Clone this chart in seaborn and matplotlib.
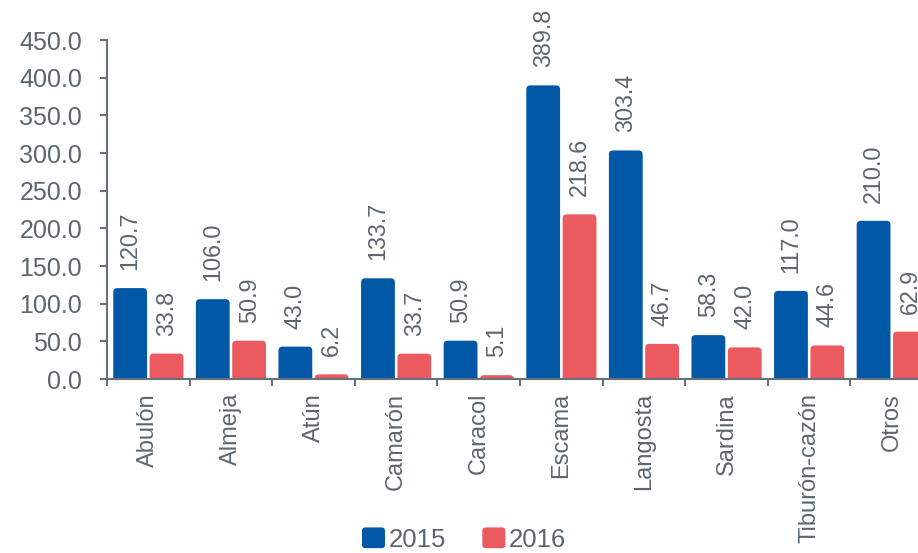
"""
Producción pesquera por especie, 2015 vs 2016 - barras agrupadas con seaborn
"""

import numpy as np
import pandas as pd
import matplotlib
matplotlib.use("Agg")
import matplotlib.pyplot as plt
import seaborn as sns
from matplotlib.patches import FancyBboxPatch, Patch
from matplotlib.legend_handler import HandlerPatch
from matplotlib.ticker import FixedLocator, FormatStrFormatter

# ============================================================
# Data
# ============================================================
especies = ["Abulón", "Almeja", "Atún", "Camarón", "Caracol",
            "Escama", "Langosta", "Sardina", "Tiburón-cazón", "Otros"]
valores_2015 = [120.7, 106.0, 43.0, 133.7, 50.9, 389.8, 303.4, 58.3, 117.0, 210.0]
valores_2016 = [33.8, 50.9, 6.2, 33.7, 5.1, 218.6, 46.7, 42.0, 44.6, 62.9]
anios = ["2015", "2016"]
y_ticks = [0, 50, 100, 150, 200, 250, 300, 350, 400, 450]

df = pd.DataFrame({
    "especie": especies * 2,
    "anio": [anios[0]] * len(especies) + [anios[1]] * len(especies),
    "valor": valores_2015 + valores_2016,
})

# ============================================================
# Style
# ============================================================
azul = "#0058A6"
rojo = "#EA5A5F"
gris_txt = "#5B6670"
gris_eje = "#66717B"

sns.set_theme(style="white")
plt.rcParams["font.family"] = ["Liberation Sans", "DejaVu Sans"]

fig_w, fig_h = 9.18, 5.53
fig = plt.figure(figsize=(fig_w, fig_h), dpi=100)
ax_pos = [0.1166, 0.3146, 0.8998, 0.613]
ax = fig.add_axes(ax_pos)

sns.barplot(data=df, x="especie", y="valor", hue="anio",
            palette=[azul, rojo], saturation=1, width=0.88, gap=0.07,
            legend=False, ax=ax)

ax.set_xlim(-0.5, len(especies) - 0.5)
ax.set_ylim(0, 450)

# value labels
for cont in ax.containers:
    ax.bar_label(cont, fmt="%.1f", rotation=90, padding=13,
                 fontsize=16.8, color=gris_txt)

# rounded tops on the bars
ax_w_px = ax_pos[2] * fig_w * 100
ax_h_px = ax_pos[3] * fig_h * 100
x_per_px = (len(especies)) / ax_w_px
y_per_px = 450 / ax_h_px
aspect = y_per_px / x_per_px
r_x = 4 * x_per_px
r_y = r_x * aspect
for bar in list(ax.patches):
    x, w, h = bar.get_x(), bar.get_width(), bar.get_height()
    fc = bar.get_facecolor()
    bar.remove()
    ax.add_patch(FancyBboxPatch((x, -r_y), w, h + r_y,
                                boxstyle=f"round,pad=0,rounding_size={r_x}",
                                mutation_aspect=aspect, fc=fc, ec="none"))

# axes & ticks
sns.despine(ax=ax)
for side in ["left", "bottom"]:
    ax.spines[side].set_color(gris_eje)
    ax.spines[side].set_linewidth(1.5)
ax.spines["left"].set_zorder(0.5)

ax.set_yticks(y_ticks)
ax.yaxis.set_major_formatter(FormatStrFormatter("%.1f"))
ax.tick_params(axis="y", left=True, length=5, width=1.5, color=gris_eje,
               direction="out", pad=13, labelsize=18, labelcolor=gris_txt)

ax.tick_params(axis="x", which="major", bottom=True, length=0, pad=10,
               labelsize=17, labelcolor=gris_txt, labelrotation=90)
ax.xaxis.set_minor_locator(FixedLocator(np.arange(-0.5, len(especies), 1)))
ax.tick_params(axis="x", which="minor", bottom=True, length=5, width=1.5,
               color=gris_eje, direction="out")
ax.set_xlabel("")
ax.set_ylabel("")

# legend with rounded squares
handles = [Patch(facecolor=c, label=a) for c, a in zip([azul, rojo], anios)]


def rounded_handle(legend, orig_handle, xdescent, ydescent, width, height, fontsize):
    return FancyBboxPatch((-xdescent, -ydescent), width, height,
                          boxstyle="round,pad=0,rounding_size=3")


fig.legend(handles=handles, labels=anios, loc="center",
           bbox_to_anchor=(0.505, 0.025), ncol=2, frameon=False,
           fontsize=18.5, labelcolor=gris_txt,
           handlelength=0.95, handleheight=0.95, handletextpad=0.1,
           columnspacing=1.4,
           handler_map={Patch: HandlerPatch(patch_func=rounded_handle)})

fig.savefig("out.png", dpi=100)
